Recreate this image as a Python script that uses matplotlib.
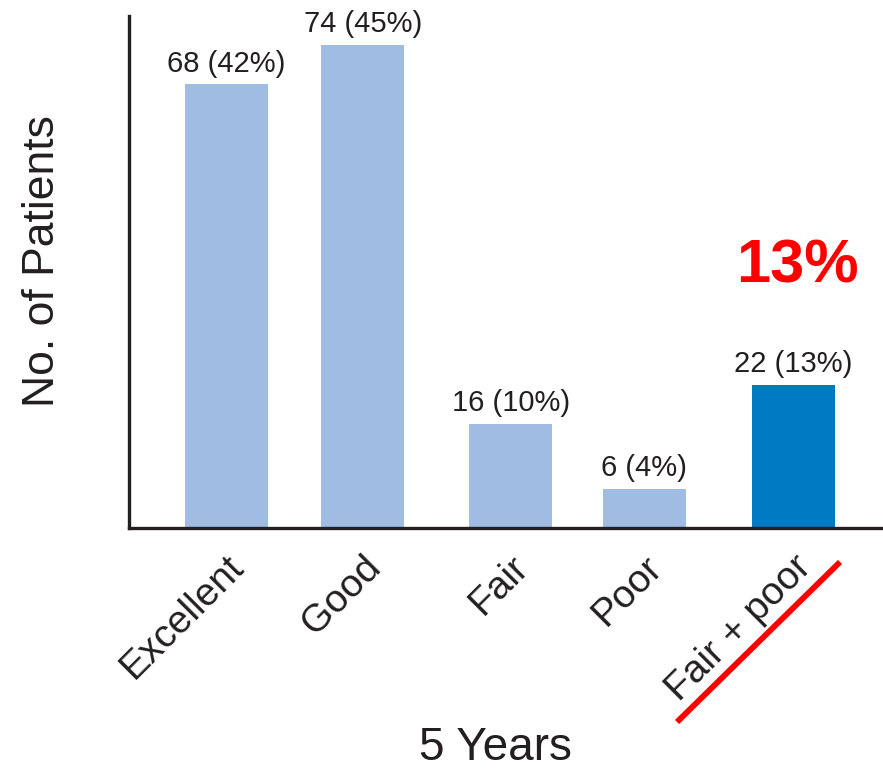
import matplotlib.pyplot as plt
from matplotlib.lines import Line2D

categories = ['Excellent', 'Good', 'Fair', 'Poor', 'Fair + poor']
patients = [68, 74, 16, 6, 22]
percents = [42, 45, 10, 4, 13]

# bar centres, in bar widths (groups are not evenly spaced)
xpos = [0, 1.65, 3.43, 5.04, 6.84]
colors = ['#a0bce2', '#a0bce2', '#a0bce2', '#a0bce2', '#007ac2']
ink = '#231f20'
font = 'Liberation Sans'

fig = plt.figure(figsize=(8.83, 7.69), dpi=100)
ax = fig.add_axes([0.1461, 0.3134, 0.854, 0.6658])

bars = ax.bar(xpos, patients, width=1.0, color=colors)
for b, n, p in zip(bars, patients, percents):
    ax.annotate(f'{n} ({p}%)', (b.get_x() + b.get_width() / 2, b.get_height()),
                xytext=(0, 5), textcoords='offset points', ha='center', va='bottom',
                fontsize=21, family=font, color=ink)

ax.set_xlim(-1.17, 7.92)
ax.set_ylim(0, 78.5)
ax.set_yticks([])
ax.set_xticks(xpos)
ax.set_xticklabels(categories, rotation=45, ha='right', va='top', rotation_mode='anchor',
                   fontsize=28, family=font, color=ink)
ax.tick_params(axis='x', length=0, pad=15)

for s in ['top', 'right']:
    ax.spines[s].set_visible(False)
for s in ['left', 'bottom']:
    ax.spines[s].set_linewidth(2.4)
    ax.spines[s].set_color(ink)

ax.text(xpos[-1] + 0.05, 37.7, f'{percents[-1]}%', ha='center', va='baseline',
        fontsize=44, fontweight='bold', color='#ff0000', family=font)

fig.text(42.5 / 883, 1 - 261 / 769, 'No. of Patients', rotation=90, ha='center', va='center',
         fontsize=32, family=font, color=ink)
fig.text(495 / 883, 1 - 760 / 769, '5 Years', ha='center', va='baseline',
         fontsize=33, family=font, color=ink)

# red strike under the combined category
fig.add_artist(Line2D([677 / 883, 840 / 883], [1 - 722 / 769, 1 - 562 / 769],
                      color='#ff0000', linewidth=4.2, solid_capstyle='butt'))

fig.savefig('out.png', dpi=100)
